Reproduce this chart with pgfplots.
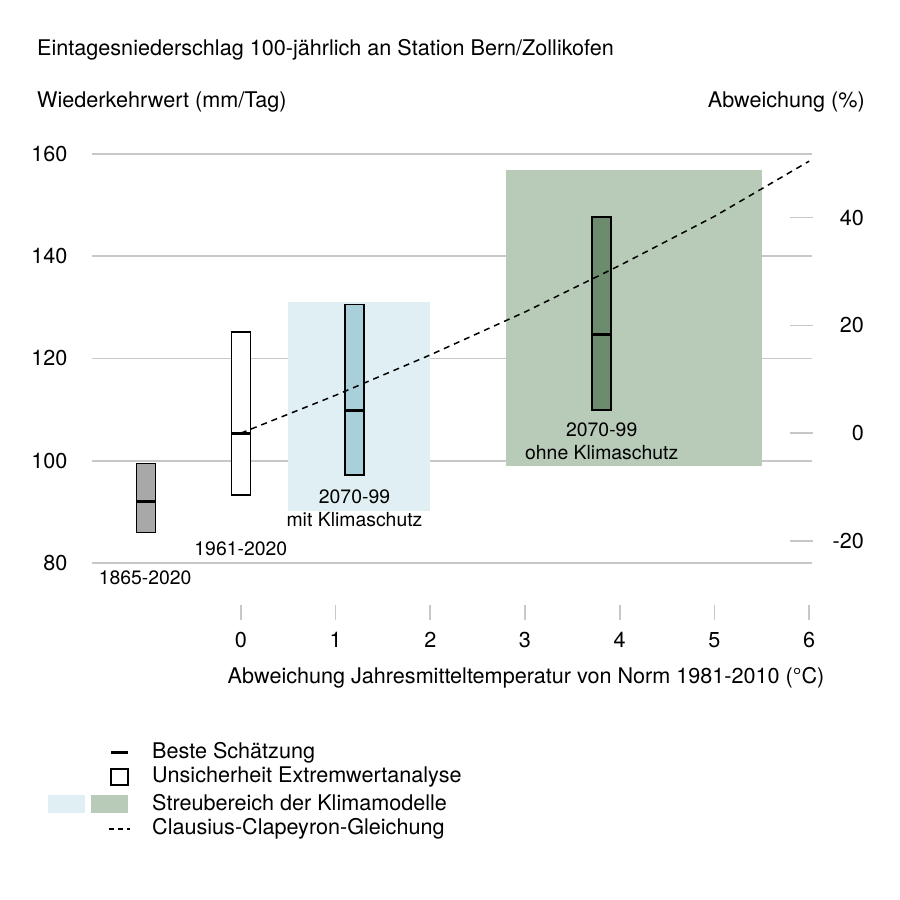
\documentclass[border=0pt]{standalone}
\usepackage{fontspec}
\setmainfont{TeX Gyre Heros}
\usepackage{pgfplots}
\pgfplotsset{compat=1.18}

\definecolor{gridgray}{HTML}{C8C8C8}
\definecolor{bandblue}{HTML}{DFEFF4}
\definecolor{bandgreen}{HTML}{B8CAB8}
\definecolor{boxblue}{HTML}{A9CFDA}
\definecolor{boxgreen}{HTML}{6D8B6D}
\definecolor{boxgray}{HTML}{A8A8A8}

\newcommand{\fs}{\fontsize{21.6}{23}\selectfont}
\newcommand{\fa}{\fontsize{19.4}{23}\selectfont}

\begin{document}
\begin{tikzpicture}[font=\fs]
\fill[white] (0,0) rectangle (900pt,900pt);
\useasboundingbox (0,0) rectangle (900pt,900pt);

% titles
\node[anchor=west, inner sep=0] at (37pt,850pt) {Eintagesniederschlag 100-jährlich an Station Bern/Zollikofen};
\node[anchor=west, inner sep=0] at (37pt,798pt) {Wiederkehrwert (mm/Tag)};
\node[anchor=east, inner sep=0] at (865pt,798pt) {Abweichung (\%)};

% main axis
\begin{axis}[
    at={(92pt,337pt)}, anchor=south west,
    scale only axis, width=720pt, height=409pt,
    xmin=-1.571, xmax=6.03, ymin=80, ymax=160,
    axis line style={draw=none}, major tick length=0pt,
    xtick=\empty, ytick={80,100,...,160},
    ymajorgrids, grid style={gridgray, line width=1.6pt},
    yticklabel style={xshift=-21pt},
    tick label style={font=\fs},
    /pgf/number format/assume math mode=true,
    clip=false,
]
% Streubereich der Klimamodelle
\addplot[fill=bandblue, draw=none] coordinates {(0.5,90.1) (2.0,90.1) (2.0,131) (0.5,131)} -- cycle;
\addplot[fill=bandgreen, draw=none] coordinates {(2.8,99) (5.5,99) (5.5,156.9) (2.8,156.9)} -- cycle;

% Unsicherheit Extremwertanalyse
\addplot[fill=boxgray, draw=black, line width=1.5pt] coordinates {(-1.1,86) (-0.9,86) (-0.9,99.5) (-1.1,99.5)} -- cycle;
\addplot[fill=white, draw=black, line width=1.5pt] coordinates {(-0.1,93.3) (0.1,93.3) (0.1,125.2) (-0.1,125.2)} -- cycle;
\addplot[fill=boxblue, draw=black, line width=1.5pt] coordinates {(1.1,97.2) (1.3,97.2) (1.3,130.6) (1.1,130.6)} -- cycle;
\addplot[fill=boxgreen, draw=black, line width=1.5pt] coordinates {(3.71,109.9) (3.91,109.9) (3.91,147.7) (3.71,147.7)} -- cycle;

% Beste Schaetzung
\addplot[black, line width=3pt] coordinates {(-1.1,92.1) (-0.9,92.1)};
\addplot[black, line width=3pt] coordinates {(-0.1,105.4) (0.1,105.4)};
\addplot[black, line width=3pt] coordinates {(1.1,109.9) (1.3,109.9)};
\addplot[black, line width=3pt] coordinates {(3.71,124.6) (3.91,124.6)};

% Clausius-Clapeyron
\addplot[black, line width=1.5pt, dash pattern=on 6pt off 5pt] coordinates {
  (0,105.4) (1,112.8) (2,120.7) (3,129.1) (4,138.2) (5,147.8) (6,158.6)};

\node[align=center, inner sep=0, font=\fa] at (axis cs:-1.01,77.1) {1865-2020};
\node[align=center, inner sep=0, font=\fa] at (axis cs:0,82.7) {1961-2020};
\node[align=center, inner sep=0, font=\fa] at (axis cs:1.2,90.8) {2070-99\\mit Klimaschutz};
\node[align=center, inner sep=0, font=\fa] at (axis cs:3.81,103.9) {2070-99\\ohne Klimaschutz};
\end{axis}

% right axis (Abweichung %)
\begin{axis}[
    at={(790pt,337pt)}, anchor=south west,
    scale only axis, width=23pt, height=409pt,
    xmin=0, xmax=1, ymin=-24.098, ymax=51.803,
    axis line style={draw=none}, major tick length=0pt,
    xtick=\empty, ytick={-20,0,20,40},
    ymajorgrids, grid style={gridgray, line width=1.6pt},
    yticklabel pos=right,
    yticklabel style={anchor=east, inner sep=0pt, xshift=51pt},
    tick label style={font=\fs},
    /pgf/number format/assume math mode=true,
]
\addplot[draw=none] coordinates {(0,0)};
\end{axis}

% x axis (temperature)
\begin{axis}[
    at={(92pt,280pt)}, anchor=south west,
    scale only axis, width=720pt, height=15pt,
    xmin=-1.571, xmax=6.03, ymin=0, ymax=1,
    axis line style={draw=none}, major tick length=0pt,
    ytick=\empty, xtick={0,...,6},
    xmajorgrids, grid style={gridgray, line width=1.6pt},
    xticklabel style={yshift=-9pt},
    tick label style={font=\fs},
    /pgf/number format/assume math mode=true,
]
\addplot[draw=none] coordinates {(0,0.5)};
\end{axis}
\node[inner sep=0] at (526pt,222pt) {Abweichung Jahresmitteltemperatur von Norm 1981-2010 (°C)};

% legend
\draw[line width=3pt] (111pt,147pt) -- (128pt,147pt);
\node[anchor=west, inner sep=0] at (152pt,147pt) {Beste Schätzung};
\draw[line width=1.3pt] (111pt,115pt) rectangle (128pt,131pt);
\node[anchor=west, inner sep=0] at (152pt,123pt) {Unsicherheit Extremwertanalyse};
\fill[bandblue] (48pt,87pt) rectangle (85pt,105pt);
\fill[bandgreen] (91pt,87pt) rectangle (128pt,105pt);
\node[anchor=west, inner sep=0] at (152pt,97pt) {Streubereich der Klimamodelle};
\draw[line width=1.5pt, dash pattern=on 5pt off 4pt] (109pt,71pt) -- (130pt,71pt);
\node[anchor=west, inner sep=0] at (152pt,71pt) {Clausius-Clapeyron-Gleichung};
\end{tikzpicture}
\end{document}
